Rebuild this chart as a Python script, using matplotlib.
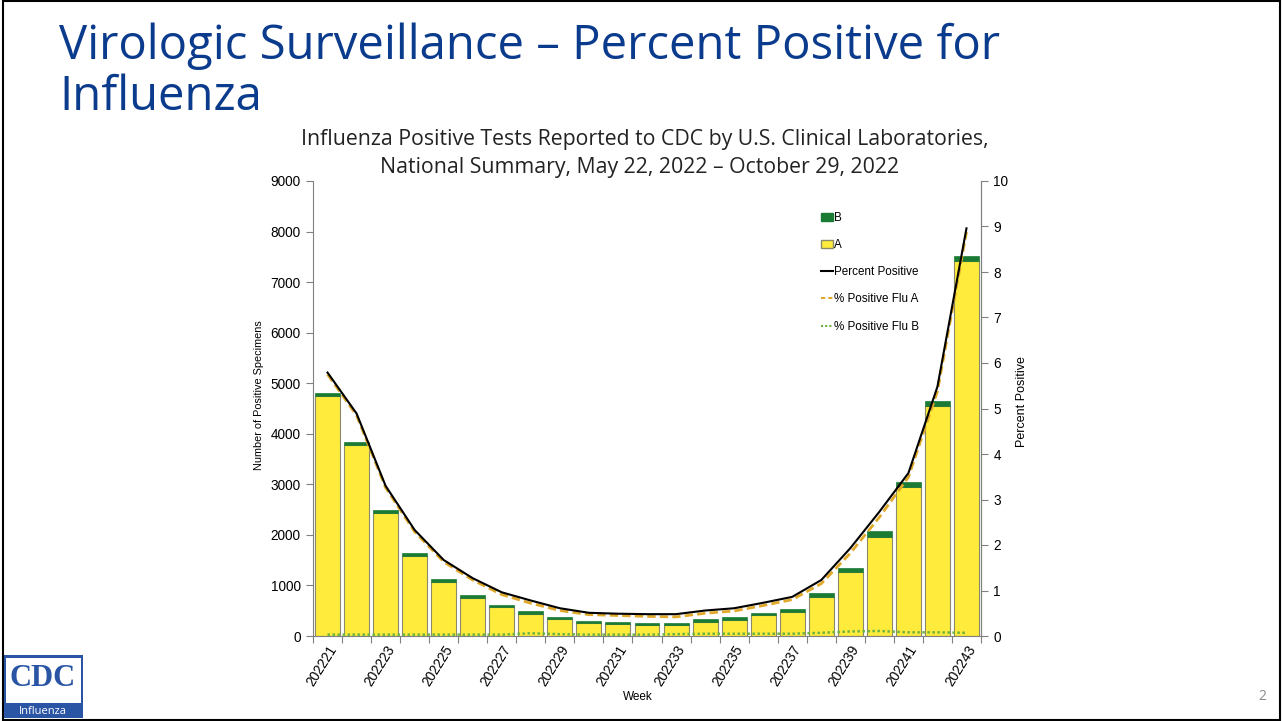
import matplotlib
matplotlib.use("Agg")
import matplotlib.pyplot as plt
import numpy as np
from matplotlib.patches import Rectangle, Patch
from matplotlib.lines import Line2D

weeks = ["202221", "202222", "202223", "202224", "202225", "202226", "202227", "202228",
         "202229", "202230", "202231", "202232", "202233", "202234", "202235", "202236",
         "202237", "202238", "202239", "202240", "202241", "202242", "202243"]
flu_a = [4750, 3775, 2435, 1585, 1070, 760, 575, 430, 330, 265, 238, 218, 218,
         285, 320, 418, 483, 770, 1263, 1960, 2945, 4550, 7425]
flu_b = [55, 55, 50, 52, 52, 45, 40, 65, 52, 35, 33, 33, 39,
         47, 52, 33, 48, 74, 87, 119, 95, 103, 86]
pct_total = [5.79, 4.89, 3.30, 2.33, 1.67, 1.27, 0.96, 0.78, 0.61, 0.51, 0.49, 0.48, 0.48,
             0.56, 0.61, 0.73, 0.86, 1.23, 1.93, 2.73, 3.58, 5.48, 8.96]
pct_a = [5.75, 4.85, 3.26, 2.29, 1.63, 1.23, 0.91, 0.72, 0.56, 0.47, 0.45, 0.43, 0.42,
         0.50, 0.55, 0.67, 0.80, 1.15, 1.82, 2.61, 3.49, 5.38, 8.88]
pct_b = [0.03, 0.03, 0.03, 0.03, 0.03, 0.03, 0.03, 0.06, 0.04, 0.03, 0.03, 0.03, 0.04,
         0.05, 0.05, 0.05, 0.05, 0.07, 0.10, 0.11, 0.08, 0.08, 0.07]

YELLOW = "#FFEB3B"
GREEN = "#1B7A34"
GOLD = "#E0A92A"
LGREEN = "#6DB33F"
TITLE_BLUE = "#0B3B8C"
GRAY = "#808080"
TICKFONT = "Liberation Sans"

fig = plt.figure(figsize=(12.83, 7.21), dpi=100)
fig.patch.set_facecolor("white")

# slide frame
fig.add_artist(Rectangle((0.002, 0.002), 0.996, 0.996, transform=fig.transFigure,
                         fill=False, edgecolor="black", linewidth=1.5))

fig.text(59 / 1283, 1 - 46 / 721, "Virologic Surveillance \u2013 Percent Positive for",
         fontsize=34, color=TITLE_BLUE, family="Open Sans", va="center", ha="left")
fig.text(59 / 1283, 1 - 97 / 721, "Influenza",
         fontsize=34, color=TITLE_BLUE, family="Open Sans", va="center", ha="left")

fig.text(645 / 1283, 1 - 139 / 721,
         "Influenza Positive Tests Reported to CDC by U.S. Clinical Laboratories,",
         fontsize=15.3, color="#222222", family="Open Sans", va="center", ha="center")
fig.text(640 / 1283, 1 - 168 / 721,
         "National Summary, May 22, 2022 \u2013 October 29, 2022",
         fontsize=15.3, color="#222222", family="Open Sans", va="center", ha="center")

ax = fig.add_axes([313 / 1283, 1 - 636 / 721, (981 - 313) / 1283, (636 - 181) / 721])
x = np.arange(len(weeks))
ax.bar(x, flu_a, width=0.86, color=YELLOW, edgecolor="#8a8a6a", linewidth=0.8, zorder=2)
ax.bar(x, flu_b, bottom=flu_a, width=0.86, color=GREEN, edgecolor=GREEN, linewidth=0.5, zorder=2)
ax.set_xlim(-0.5, len(weeks) - 0.5)
ax.set_ylim(0, 9000)
ax.set_yticks(np.arange(0, 9001, 1000))
ax.set_xticks(np.arange(-0.5, len(weeks), 1.0))
ax.set_xticklabels([])
ax.set_xticks(x[::2], minor=True)
ax.set_xticklabels([weeks[i] for i in range(0, len(weeks), 2)], minor=True,
                   rotation=58, ha="right", rotation_mode="anchor", fontsize=9.8,
                   family=TICKFONT)
ax.tick_params(axis="x", which="minor", length=0, pad=5)
ax.tick_params(axis="x", which="major", length=5, color=GRAY, direction="out")
ax.tick_params(axis="y", length=5, color=GRAY, labelsize=9.8, direction="out", pad=4)
for lab in ax.get_yticklabels():
    lab.set_family(TICKFONT)
ax.spines["top"].set_visible(False)
for s in ["left", "bottom", "right"]:
    ax.spines[s].set_color(GRAY)
ax.set_ylabel("Number of Positive Specimens", fontsize=7.8, family=TICKFONT)
ax.yaxis.set_label_coords(-0.073, 0.53)
ax.set_xlabel("Week", fontsize=8.5, family=TICKFONT)
ax.xaxis.set_label_coords(0.487, -0.12)

ax2 = ax.twinx()
ax2.set_ylim(0, 10)
ax2.set_yticks(np.arange(0, 11, 1))
ax2.tick_params(axis="y", length=5, color=GRAY, labelsize=9.8, pad=4)
for lab in ax2.get_yticklabels():
    lab.set_family(TICKFONT)
ax2.spines["top"].set_visible(False)
ax2.spines["left"].set_visible(False)
ax2.spines["bottom"].set_visible(False)
ax2.spines["right"].set_color(GRAY)
ax2.plot(x, pct_total, color="black", linewidth=1.5, zorder=5)
ax2.plot(x, pct_a, color=GOLD, linewidth=2, linestyle=(0, (3, 1.5)), zorder=4)
ax2.plot(x, pct_b, color=LGREEN, linewidth=1.8, linestyle=(0, (1, 1)), zorder=4)
ax2.set_ylabel("Percent Positive", fontsize=9, family=TICKFONT)
ax2.yaxis.set_label_coords(1.052, 0.515)

handles = [Patch(facecolor=GREEN, edgecolor=GREEN),
           Patch(facecolor=YELLOW, edgecolor="#8a8a6a"),
           Line2D([], [], color="black", lw=1.5),
           Line2D([], [], color=GOLD, lw=1.5, linestyle=(0, (2, 1.5))),
           Line2D([], [], color=LGREEN, lw=1.5, linestyle=(0, (1, 1)))]
labels = ["B", "A", "Percent Positive", "% Positive Flu A", "% Positive Flu B"]
leg = ax2.legend(handles, labels, loc="upper left", bbox_to_anchor=(0.745, 0.955),
                 frameon=False, labelspacing=1.3, handlelength=1.0,
                 handleheight=0.7, handletextpad=0.1,
                 prop={"family": TICKFONT, "size": 8.4})

# page number
fig.text(1262 / 1283, 1 - 696 / 721, "2", fontsize=10, color="#8a8a8a", ha="center", va="center",
         family="Open Sans")

# CDC logo
fig.add_artist(Rectangle((4 / 1283, 1 - 718 / 721), 79 / 1283, 63 / 721,
                         transform=fig.transFigure, facecolor="#2A55A4", edgecolor="none"))
fig.add_artist(Rectangle((6 / 1283, 1 - 703 / 721), 75 / 1283, 45 / 721,
                         transform=fig.transFigure, facecolor="white", edgecolor="none"))
fig.text(43 / 1283, 1 - 678 / 721, "CDC", fontsize=22, color="#2A55A4", fontweight="bold",
         ha="center", va="center", family="Liberation Serif")
fig.text(43 / 1283, 1 - 711 / 721, "Influenza", fontsize=8, color="white",
         ha="center", va="center", family="Open Sans")

fig.savefig("out.png", dpi=100)
